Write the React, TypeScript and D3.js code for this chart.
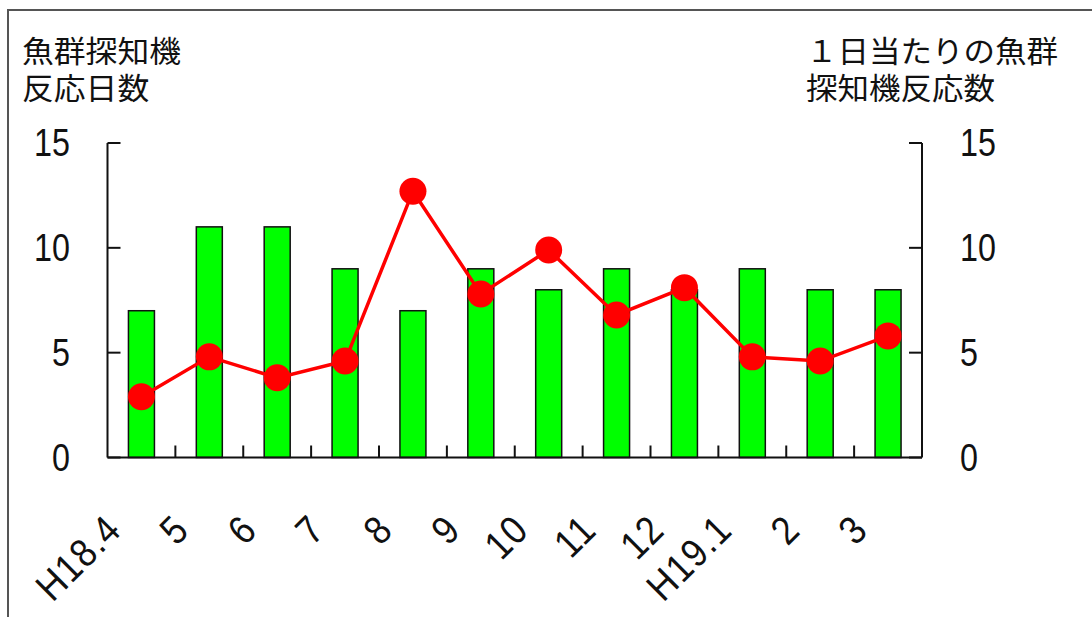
import React from "react";
import * as d3 from "d3";

const categories = ["H18.4", "5", "6", "7", "8", "9", "10", "11", "12", "H19.1", "2", "3"];
const reactionDays = [7, 11, 11, 9, 7, 9, 8, 9, 8, 9, 8, 8];
const perDayReactions = [2.9, 4.8, 3.8, 4.6, 12.7, 7.8, 9.9, 6.8, 8.1, 4.8, 4.6, 5.8];
const yTicks = [0, 5, 10, 15];
const leftTitle = ["魚群探知機", "反応日数"];
const rightTitle = ["１日当たりの魚群", "探知機反応数"];

const W = 1092;
const H = 617;
const plotLeft = 107.5;
const plotRight = 922;
const plotTop = 143;
const plotBottom = 457.5;

export default function App() {
  const x = d3.scaleBand<string>().domain(categories).range([plotLeft, plotRight]).padding(0);
  const yL = d3.scaleLinear().domain([0, 15]).range([plotBottom, plotTop]);
  const yR = d3.scaleLinear().domain([0, 15]).range([plotBottom, plotTop]);
  const bw = 26;
  const cx = (c: string) => (x(c) ?? 0) + x.bandwidth() / 2;
  const line = d3
    .line<number>()
    .x((_, i) => cx(categories[i]))
    .y((d) => yR(d));
  const numFont = "'Liberation Sans', Arial, sans-serif";
  const jpFont = "'Noto Sans CJK JP', sans-serif";
  const boundaries = categories.slice(1).map((c) => x(c) ?? 0);

  return (
    <svg
      width={W}
      height={H}
      style={{ position: "absolute", left: 0, top: 0, background: "#fff" }}
    >
      <rect x={0} y={0} width={W} height={H} fill="#fff" />
      {/* frame */}
      <path d={`M8,${H + 5} L8,10 L${W + 5},10`} fill="none" stroke="#555" strokeWidth={2} />

      {/* titles */}
      <g fontFamily={jpFont} fontSize={30} fill="#111">
        {leftTitle.map((t, i) => (
          <text key={i} x={22} y={62 + i * 37} textLength={t.length * 31.8} lengthAdjust="spacingAndGlyphs">
            {t}
          </text>
        ))}
        {rightTitle.map((t, i) => (
          <text key={"r" + i} x={806} y={62 + i * 37} textLength={t.length * 31.5} lengthAdjust="spacingAndGlyphs">
            {t}
          </text>
        ))}
      </g>

      {/* bars */}
      {categories.map((c, i) => (
        <rect
          key={c}
          x={cx(c) - bw / 2}
          y={yL(reactionDays[i])}
          width={bw}
          height={plotBottom - yL(reactionDays[i])}
          fill="#00ff00"
          stroke="#111"
          strokeWidth={1.5}
        />
      ))}

      {/* axes */}
      <g stroke="#111" strokeWidth={2} fill="none">
        <line x1={plotLeft} x2={plotLeft} y1={plotTop} y2={plotBottom} />
        <line x1={plotRight} x2={plotRight} y1={plotTop} y2={plotBottom} />
        <line x1={plotLeft} x2={plotRight} y1={plotBottom} y2={plotBottom} />
        {yTicks.map((t) => (
          <line key={"lt" + t} x1={plotLeft} x2={plotLeft + 13} y1={yL(t)} y2={yL(t)} />
        ))}
        {yTicks.map((t) => (
          <line key={"rt" + t} x1={plotRight} x2={plotRight - 13} y1={yR(t)} y2={yR(t)} />
        ))}
        {boundaries.map((b, i) => (
          <line key={"bt" + i} x1={b} x2={b} y1={plotBottom} y2={plotBottom - 12} />
        ))}
      </g>

      {/* tick labels */}
      <g fontFamily={numFont} fontSize={38} fill="#111">
        {yTicks.map((t) => (
          <text
            key={"ll" + t}
            x={70}
            y={yL(t)}
            textAnchor="end"
            dominantBaseline="central"
            transform={`translate(70,0) scale(0.85,1) translate(-70,0)`}
          >
            {t}
          </text>
        ))}
        {yTicks.map((t) => (
          <text
            key={"rl" + t}
            x={960}
            y={yR(t)}
            textAnchor="start"
            dominantBaseline="central"
            transform={`translate(960,0) scale(0.85,1) translate(-960,0)`}
          >
            {t}
          </text>
        ))}
      </g>

      {/* category labels */}
      <g fontFamily={numFont} fontSize={40} fill="#111">
        {categories.map((c) => {
          const ax = cx(c) - 18;
          const ay = 532;
          return (
            <text
              key={"cl" + c}
              x={0}
              y={0}
              textAnchor="end"
              letterSpacing={1.5}
              transform={`translate(${ax},${ay}) rotate(-45) scale(0.88,1)`}
            >
              {c}
            </text>
          );
        })}
      </g>

      {/* line */}
      <path d={line(perDayReactions) ?? ""} fill="none" stroke="#ff0000" strokeWidth={3.5} />
      {perDayReactions.map((v, i) => (
        <circle key={"p" + i} cx={cx(categories[i])} cy={yR(v)} r={13.5} fill="#ff0000" />
      ))}
    </svg>
  );
}
